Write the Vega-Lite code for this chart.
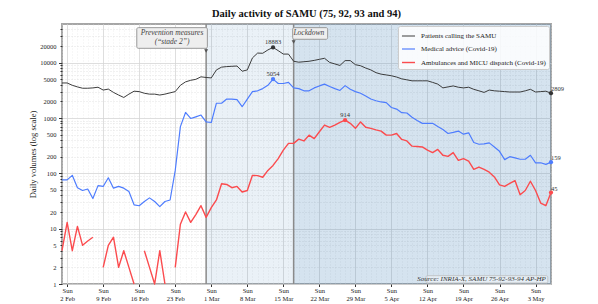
{
  "$schema": "https://vega.github.io/schema/vega-lite/v6.json",
  "width": 489,
  "height": 260,
  "autosize": "none",
  "padding": {"left": 62, "top": 24, "right": 47, "bottom": 20},
  "title": {"text": "Daily activity of SAMU (75, 92, 93 and 94)", "font": "Liberation Serif", "fontSize": 10.5, "fontWeight": "bold", "color": "#111111", "offset": 4},
  "config": {
    "font": "Liberation Serif",
    "view": {"stroke": "#a6a6a6", "strokeWidth": 2},
    "axis": {"domain": false, "labelFont": "Liberation Serif", "labelFontSize": 6.5, "labelColor": "#222222", "tickColor": "#333333", "titleFont": "Liberation Serif", "titleFontWeight": "normal", "titleColor": "#222222", "labelOverlap": false, "labelFlush": false}
  },
  "datasets": {
    "daily": [
      {"date": "2020-02-01", "calls": 4300, "advice": 76, "amb": 4},
      {"date": "2020-02-02", "calls": 4300, "advice": 76, "amb": 13},
      {"date": "2020-02-03", "calls": 3900, "advice": 92, "amb": 4},
      {"date": "2020-02-04", "calls": 3650, "advice": 55, "amb": 11},
      {"date": "2020-02-05", "calls": 3450, "advice": 49, "amb": 5},
      {"date": "2020-02-06", "calls": 3450, "advice": 52, "amb": 6},
      {"date": "2020-02-07", "calls": 3500, "advice": 35, "amb": 7},
      {"date": "2020-02-08", "calls": 3600, "advice": 60, "amb": null},
      {"date": "2020-02-09", "calls": 3200, "advice": 58, "amb": 2},
      {"date": "2020-02-10", "calls": 3330, "advice": 83, "amb": 5},
      {"date": "2020-02-11", "calls": 2900, "advice": 54, "amb": 7},
      {"date": "2020-02-12", "calls": 2600, "advice": 58, "amb": 2},
      {"date": "2020-02-13", "calls": 2350, "advice": 54, "amb": 4},
      {"date": "2020-02-14", "calls": 2700, "advice": 47, "amb": 2},
      {"date": "2020-02-15", "calls": 3050, "advice": 27, "amb": 1},
      {"date": "2020-02-16", "calls": 3000, "advice": 26, "amb": null},
      {"date": "2020-02-17", "calls": 2800, "advice": 31, "amb": 4},
      {"date": "2020-02-18", "calls": 2700, "advice": 36, "amb": 2},
      {"date": "2020-02-19", "calls": 2700, "advice": 31, "amb": 1},
      {"date": "2020-02-20", "calls": 2600, "advice": 25, "amb": 4},
      {"date": "2020-02-21", "calls": 2700, "advice": 31, "amb": 1},
      {"date": "2020-02-22", "calls": 2850, "advice": 33, "amb": null},
      {"date": "2020-02-23", "calls": 3000, "advice": 113, "amb": 2},
      {"date": "2020-02-24", "calls": 3900, "advice": 700, "amb": 12},
      {"date": "2020-02-25", "calls": 4500, "advice": 1260, "amb": 20},
      {"date": "2020-02-26", "calls": 4800, "advice": 980, "amb": 13},
      {"date": "2020-02-27", "calls": 5000, "advice": 1050, "amb": 18},
      {"date": "2020-02-28", "calls": 5550, "advice": 1130, "amb": 26},
      {"date": "2020-02-29", "calls": 5400, "advice": 850, "amb": 16},
      {"date": "2020-03-01", "calls": 5300, "advice": 830, "amb": 24},
      {"date": "2020-03-02", "calls": 7400, "advice": 1850, "amb": 33},
      {"date": "2020-03-03", "calls": 8300, "advice": 1850, "amb": 65},
      {"date": "2020-03-04", "calls": 8500, "advice": 2200, "amb": 63},
      {"date": "2020-03-05", "calls": 8600, "advice": 2200, "amb": 55},
      {"date": "2020-03-06", "calls": 8700, "advice": 2150, "amb": 58},
      {"date": "2020-03-07", "calls": 7000, "advice": 1600, "amb": 46},
      {"date": "2020-03-08", "calls": 7400, "advice": 2200, "amb": 49},
      {"date": "2020-03-09", "calls": 12200, "advice": 3000, "amb": 92},
      {"date": "2020-03-10", "calls": 14900, "advice": 3100, "amb": 91},
      {"date": "2020-03-11", "calls": 14800, "advice": 3400, "amb": 85},
      {"date": "2020-03-12", "calls": 17000, "advice": 3900, "amb": 113},
      {"date": "2020-03-13", "calls": 18883, "advice": 5054, "amb": 139},
      {"date": "2020-03-14", "calls": 16500, "advice": 4200, "amb": 185},
      {"date": "2020-03-15", "calls": 14300, "advice": 4200, "amb": 262},
      {"date": "2020-03-16", "calls": 14300, "advice": 4400, "amb": 348},
      {"date": "2020-03-17", "calls": 10600, "advice": 3500, "amb": 348},
      {"date": "2020-03-18", "calls": 10200, "advice": 3400, "amb": 415},
      {"date": "2020-03-19", "calls": 10400, "advice": 3100, "amb": 385},
      {"date": "2020-03-20", "calls": 10600, "advice": 3100, "amb": 490},
      {"date": "2020-03-21", "calls": 11000, "advice": 3500, "amb": 425},
      {"date": "2020-03-22", "calls": 11500, "advice": 3800, "amb": 565},
      {"date": "2020-03-23", "calls": 12000, "advice": 4100, "amb": 745},
      {"date": "2020-03-24", "calls": 10100, "advice": 3700, "amb": 680},
      {"date": "2020-03-25", "calls": 9500, "advice": 3400, "amb": 745},
      {"date": "2020-03-26", "calls": 8900, "advice": 3150, "amb": 830},
      {"date": "2020-03-27", "calls": 10900, "advice": 3850, "amb": 914},
      {"date": "2020-03-28", "calls": 10900, "advice": 3300, "amb": 800},
      {"date": "2020-03-29", "calls": 9200, "advice": 3000, "amb": 650},
      {"date": "2020-03-30", "calls": 8800, "advice": 2800, "amb": 850},
      {"date": "2020-03-31", "calls": 8000, "advice": 2500, "amb": 680},
      {"date": "2020-04-01", "calls": 7400, "advice": 2200, "amb": 650},
      {"date": "2020-04-02", "calls": 6600, "advice": 2050, "amb": 610},
      {"date": "2020-04-03", "calls": 6200, "advice": 1950, "amb": 580},
      {"date": "2020-04-04", "calls": 6000, "advice": 1900, "amb": 490},
      {"date": "2020-04-05", "calls": 5800, "advice": 1550, "amb": 490},
      {"date": "2020-04-06", "calls": 5500, "advice": 1450, "amb": 525},
      {"date": "2020-04-07", "calls": 5100, "advice": 1250, "amb": 410},
      {"date": "2020-04-08", "calls": 4900, "advice": 1230, "amb": 385},
      {"date": "2020-04-09", "calls": 4700, "advice": 1030, "amb": 310},
      {"date": "2020-04-10", "calls": 4700, "advice": 900, "amb": 305},
      {"date": "2020-04-11", "calls": 4700, "advice": 800, "amb": 300},
      {"date": "2020-04-12", "calls": 4700, "advice": 800, "amb": 262},
      {"date": "2020-04-13", "calls": 4400, "advice": 800, "amb": 237},
      {"date": "2020-04-14", "calls": 4100, "advice": 700, "amb": 270},
      {"date": "2020-04-15", "calls": 3500, "advice": 620, "amb": 212},
      {"date": "2020-04-16", "calls": 3650, "advice": 525, "amb": 203},
      {"date": "2020-04-17", "calls": 3800, "advice": 550, "amb": 237},
      {"date": "2020-04-18", "calls": 3600, "advice": 580, "amb": 172},
      {"date": "2020-04-19", "calls": 3500, "advice": 510, "amb": 185},
      {"date": "2020-04-20", "calls": 3600, "advice": 540, "amb": 167},
      {"date": "2020-04-21", "calls": 3300, "advice": 360, "amb": 118},
      {"date": "2020-04-22", "calls": 3100, "advice": 335, "amb": 130},
      {"date": "2020-04-23", "calls": 2900, "advice": 340, "amb": 118},
      {"date": "2020-04-24", "calls": 3200, "advice": 355, "amb": 105},
      {"date": "2020-04-25", "calls": 3100, "advice": 300, "amb": 86},
      {"date": "2020-04-26", "calls": 3050, "advice": 250, "amb": 62},
      {"date": "2020-04-27", "calls": 3000, "advice": 177, "amb": 58},
      {"date": "2020-04-28", "calls": 2950, "advice": 200, "amb": 66},
      {"date": "2020-04-29", "calls": 2950, "advice": 190, "amb": 74},
      {"date": "2020-04-30", "calls": 2950, "advice": 180, "amb": 41},
      {"date": "2020-05-01", "calls": 3100, "advice": 180, "amb": 49},
      {"date": "2020-05-02", "calls": 3300, "advice": 212, "amb": 72},
      {"date": "2020-05-03", "calls": 2950, "advice": 155, "amb": 49},
      {"date": "2020-05-04", "calls": 3000, "advice": 155, "amb": 29},
      {"date": "2020-05-05", "calls": 3050, "advice": 145, "amb": 26},
      {"date": "2020-05-06", "calls": 2809, "advice": 159, "amb": 45}
    ],
    "marks": [
      {"date": "2020-03-13", "value": 18883, "series": "calls", "label": "18883", "kind": "peak"},
      {"date": "2020-03-13", "value": 5054, "series": "advice", "label": "5054", "kind": "peak"},
      {"date": "2020-03-27", "value": 914, "series": "amb", "label": "914", "kind": "peak"},
      {"date": "2020-05-06", "value": 2809, "series": "calls", "label": "2809", "kind": "end"},
      {"date": "2020-05-06", "value": 159, "series": "advice", "label": "159", "kind": "end"},
      {"date": "2020-05-06", "value": 45, "series": "amb", "label": "45", "kind": "end"}
    ],
    "boxes": [
      {"x1": "2020-02-15T12:43:00Z", "x2": "2020-02-29T05:45:00Z", "y1": 42950, "y2": 18190},
      {"x1": "2020-03-16T19:40:00Z", "x2": "2020-03-23T14:38:00Z", "y1": 42950, "y2": 26470}
    ],
    "notes": [
      {"date": "2020-02-22T09:00:00Z", "value": 34850, "text": "Prevention measures"},
      {"date": "2020-02-22T09:00:00Z", "value": 23650, "text": "(“stade 2”)"},
      {"date": "2020-03-19T23:00:00Z", "value": 33700, "text": "Lockdown"}
    ],
    "arrows": [
      {"date": "2020-02-29", "value": 16250},
      {"date": "2020-03-17", "value": 23650}
    ]
  },
  "layer": [
    {
      "data": {"values": [{"start": "2020-02-29", "end": "2020-03-17"}]},
      "mark": {"type": "rect", "fill": "#3f7fb5", "opacity": 0.11},
      "encoding": {
        "x": {"field": "start", "type": "temporal", "scale": {"type": "utc"}, "axis": null},
        "x2": {"field": "end"}
      }
    },
    {
      "data": {"values": [{"start": "2020-03-17", "end": "2020-05-06"}]},
      "mark": {"type": "rect", "fill": "#3f7fb5", "opacity": 0.22},
      "encoding": {
        "x": {"field": "start", "type": "temporal", "scale": {"type": "utc"}, "axis": null},
        "x2": {"field": "end"}
      }
    },
    {
      "data": {"values": [{"date": "2020-02-29"}, {"date": "2020-03-17"}]},
      "mark": {"type": "rule", "color": "#8a8a8a", "strokeWidth": 1.5},
      "encoding": {
        "x": {"field": "date", "type": "temporal", "scale": {"type": "utc"}, "axis": null}
      }
    },
    {
      "data": {"name": "daily"},
      "transform": [{"fold": ["calls", "advice", "amb"], "as": ["series", "value"]}],
      "mark": {"type": "line", "invalid": "break-paths-filter-domains", "strokeJoin": "round"},
      "encoding": {
        "x": {
          "field": "date", "type": "temporal",
          "scale": {"type": "utc", "nice": false, "domain": [{"year": 2020, "month": 2, "date": 1, "utc": true}, {"year": 2020, "month": 5, "date": 6, "utc": true}]},
          "axis": {"orient": "bottom", "title": null, "tickCount": {"interval": "week", "step": 1}, "labelExpr": "['Sun', utcFormat(datum.value, '%-d %b')]", "grid": true, "gridColor": "#d6d6d6", "gridWidth": 0.8, "tickSize": 2.5, "labelPadding": 1, "labelLineHeight": 7.5, "labelAlign": "center"}
        },
        "y": {
          "field": "value", "type": "quantitative",
          "scale": {"type": "log", "domain": [1, 50000], "nice": false, "zero": false},
          "axis": {"orient": "left", "title": "Daily volumes (log scale)", "titleFontSize": 8.5, "titlePadding": 2, "values": [1, 10, 100, 1000, 10000], "format": "d", "grid": true, "gridColor": "#d6d6d6", "gridWidth": 0.8, "tickSize": 3.5, "labelPadding": 2.5}
        },
        "color": {
          "field": "series", "type": "nominal",
          "scale": {"domain": ["calls", "advice", "amb"], "range": ["#333333", "#4d7cfe", "#fb4b4e"]},
          "legend": {"title": null, "orient": "top-right", "offset": 2, "symbolType": "stroke", "symbolSize": 170, "symbolStrokeWidth": 1.5, "labelFontSize": 7, "labelFont": "Liberation Serif", "labelColor": "#222222", "fillColor": "rgba(255,255,255,0.85)", "strokeColor": "#cccccc", "padding": 3, "rowPadding": 2.5, "labelOffset": 5, "cornerRadius": 2,
            "labelExpr": "datum.label == 'calls' ? 'Patients calling the SAMU' : datum.label == 'advice' ? 'Medical advice (Covid-19)' : 'Ambulances and MICU dispatch (Covid-19)'"}
        },
        "strokeWidth": {
          "field": "series", "type": "nominal",
          "scale": {"domain": ["calls", "advice", "amb"], "range": [0.95, 1.4, 1.4]},
          "legend": null
        }
      }
    },
    {
      "data": {"name": "marks"},
      "mark": {"type": "point", "filled": true, "size": 18, "opacity": 1},
      "encoding": {
        "x": {"field": "date", "type": "temporal", "scale": {"type": "utc"},
          "axis": {"orient": "bottom", "title": null, "tickCount": {"interval": "day", "step": 1}, "labels": false, "ticks": false, "grid": true, "gridDash": [1, 2], "gridColor": "#dddddd", "gridWidth": 0.5}},
        "y": {"field": "value", "type": "quantitative",
          "axis": {"orient": "left", "title": null, "values": [2, 3, 4, 5, 6, 7, 8, 9, 20, 30, 40, 50, 60, 70, 80, 90, 200, 300, 400, 500, 600, 700, 800, 900, 2000, 3000, 4000, 5000, 6000, 7000, 8000, 9000, 20000, 30000, 40000], "format": "d",
            "labelExpr": "indexof([2, 5, 20, 50, 200, 500, 2000, 5000, 20000], datum.value) >= 0 ? datum.label : ''",
            "grid": true, "gridDash": [1, 2], "gridColor": "#d2d2d2", "gridWidth": 0.6, "tickSize": 2, "labelPadding": 4}},
        "color": {"field": "series", "type": "nominal"}
      }
    },
    {
      "data": {"name": "marks"},
      "transform": [{"filter": "datum.kind == 'peak'"}],
      "mark": {"type": "text", "baseline": "bottom", "dy": -2, "fontSize": 6.5, "color": "#333333"},
      "encoding": {
        "x": {"field": "date", "type": "temporal", "scale": {"type": "utc"}, "axis": null},
        "y": {"field": "value", "type": "quantitative", "axis": null},
        "text": {"field": "label"}
      }
    },
    {
      "data": {"name": "marks"},
      "transform": [{"filter": "datum.kind == 'end'"}],
      "mark": {"type": "text", "baseline": "bottom", "align": "left", "dx": 0, "dy": -1, "fontSize": 6.5, "color": "#333333"},
      "encoding": {
        "x": {"field": "date", "type": "temporal", "scale": {"type": "utc"}, "axis": null},
        "y": {"field": "value", "type": "quantitative", "axis": null},
        "text": {"field": "label"}
      }
    },
    {
      "data": {"name": "boxes"},
      "mark": {"type": "rect", "fill": "#eeeeee", "stroke": "#999999", "strokeWidth": 1, "cornerRadius": 1.5},
      "encoding": {
        "x": {"field": "x1", "type": "temporal", "scale": {"type": "utc"}, "axis": null},
        "x2": {"field": "x2"},
        "y": {"field": "y1", "type": "quantitative", "axis": null},
        "y2": {"field": "y2"}
      }
    },
    {
      "data": {"name": "notes"},
      "mark": {"type": "text", "fontStyle": "italic", "fontSize": 7.5, "color": "#444444", "baseline": "middle"},
      "encoding": {
        "x": {"field": "date", "type": "temporal", "scale": {"type": "utc"}, "axis": null},
        "y": {"field": "value", "type": "quantitative", "axis": null},
        "text": {"field": "text"}
      }
    },
    {
      "data": {"name": "arrows"},
      "mark": {"type": "point", "shape": "triangle-down", "filled": true, "size": 16, "color": "#555555", "opacity": 1},
      "encoding": {
        "x": {"field": "date", "type": "temporal", "scale": {"type": "utc"}, "axis": null},
        "y": {"field": "value", "type": "quantitative", "axis": null}
      }
    },
    {
      "data": {"values": [{"x1": "2020-04-11T17:00:00Z", "x2": "2020-05-05T09:00:00Z", "y1": 1.413, "y2": 1.042}]},
      "mark": {"type": "rect", "fill": "#ffffff", "fillOpacity": 0.4, "stroke": "#bbbbbb", "strokeWidth": 0.8, "cornerRadius": 1.5},
      "encoding": {
        "x": {"field": "x1", "type": "temporal", "scale": {"type": "utc"}, "axis": null},
        "x2": {"field": "x2"},
        "y": {"field": "y1", "type": "quantitative", "axis": null},
        "y2": {"field": "y2"}
      }
    },
    {
      "data": {"values": [{"date": "2020-05-05", "value": 1.212, "text": "Source: INRIA-X, SAMU 75-92-93-94 AP-HP"}]},
      "mark": {"type": "text", "fontStyle": "italic", "fontSize": 7, "color": "#333333", "align": "right", "baseline": "middle"},
      "encoding": {
        "x": {"field": "date", "type": "temporal", "scale": {"type": "utc"}, "axis": null},
        "y": {"field": "value", "type": "quantitative", "axis": null},
        "text": {"field": "text"}
      }
    }
  ],
  "resolve": {"axis": {"x": "independent", "y": "independent"}}
}
